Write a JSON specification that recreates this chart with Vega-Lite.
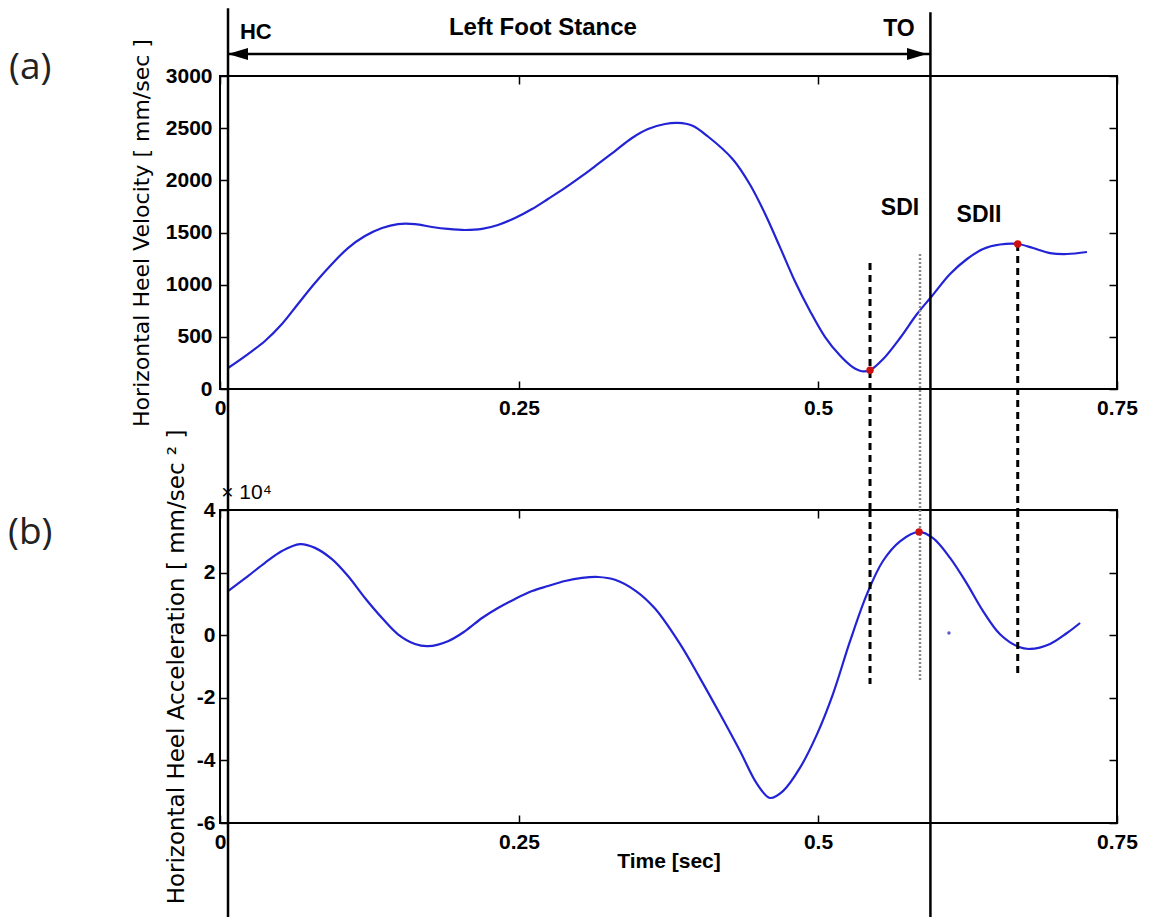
{
  "$schema": "https://vega.github.io/schema/vega-lite/v6.json",
  "background": "white",
  "padding": {"left": 7, "top": 5, "right": 5, "bottom": 0},
  "bounds": "flush",
  "spacing": 121,
  "config": {
    "view": {"stroke": "black", "strokeWidth": 2},
    "axis": {
      "grid": false, "domain": false, "tickColor": "black", "tickWidth": 1.5, "tickSize": -8,
      "labelFont": "Liberation Sans", "labelFontWeight": "bold", "labelFontSize": 21, "labelColor": "black",
      "titleColor": "black", "labelFlush": false, "labelOverlap": false
    }
  },
  "datasets": {
    "velocity": [
      {"t": 0.0067, "v": 201}, {"t": 0.0234, "v": 335}, {"t": 0.0376, "v": 460}, {"t": 0.0518, "v": 623},
      {"t": 0.0652, "v": 815}, {"t": 0.0794, "v": 1016}, {"t": 0.0936, "v": 1198}, {"t": 0.107, "v": 1351},
      {"t": 0.1212, "v": 1466}, {"t": 0.1355, "v": 1543}, {"t": 0.1488, "v": 1581}, {"t": 0.163, "v": 1581},
      {"t": 0.1773, "v": 1553}, {"t": 0.1906, "v": 1534}, {"t": 0.2049, "v": 1524}, {"t": 0.2191, "v": 1534},
      {"t": 0.2324, "v": 1572}, {"t": 0.2467, "v": 1639}, {"t": 0.2609, "v": 1725}, {"t": 0.2742, "v": 1821},
      {"t": 0.2885, "v": 1927}, {"t": 0.3027, "v": 2042}, {"t": 0.3161, "v": 2157}, {"t": 0.3303, "v": 2281},
      {"t": 0.3445, "v": 2406}, {"t": 0.3579, "v": 2492}, {"t": 0.3721, "v": 2540}, {"t": 0.3829, "v": 2550},
      {"t": 0.3946, "v": 2525}, {"t": 0.408, "v": 2420}, {"t": 0.4289, "v": 2200}, {"t": 0.4431, "v": 1960},
      {"t": 0.4557, "v": 1680}, {"t": 0.4682, "v": 1360}, {"t": 0.4808, "v": 1030}, {"t": 0.4933, "v": 748},
      {"t": 0.5058, "v": 500}, {"t": 0.5184, "v": 320}, {"t": 0.5284, "v": 215}, {"t": 0.5368, "v": 170},
      {"t": 0.5435, "v": 180}, {"t": 0.5543, "v": 285}, {"t": 0.5686, "v": 489}, {"t": 0.5828, "v": 719},
      {"t": 0.5953, "v": 891}, {"t": 0.6104, "v": 1102}, {"t": 0.6246, "v": 1246}, {"t": 0.638, "v": 1342},
      {"t": 0.6522, "v": 1385}, {"t": 0.6672, "v": 1390}, {"t": 0.6798, "v": 1351}, {"t": 0.694, "v": 1303},
      {"t": 0.7082, "v": 1294}, {"t": 0.7249, "v": 1313}
    ],
    "accel": [
      {"t": 0.0067, "a": 1.41}, {"t": 0.0234, "a": 1.89}, {"t": 0.0376, "a": 2.31}, {"t": 0.0518, "a": 2.69},
      {"t": 0.0669, "a": 2.91}, {"t": 0.0794, "a": 2.79}, {"t": 0.0936, "a": 2.43}, {"t": 0.107, "a": 1.89},
      {"t": 0.1212, "a": 1.19}, {"t": 0.1355, "a": 0.55}, {"t": 0.1488, "a": 0.03}, {"t": 0.163, "a": -0.28},
      {"t": 0.1739, "a": -0.35}, {"t": 0.1906, "a": -0.19}, {"t": 0.2049, "a": 0.13}, {"t": 0.2191, "a": 0.55},
      {"t": 0.2324, "a": 0.87}, {"t": 0.2467, "a": 1.16}, {"t": 0.2609, "a": 1.41}, {"t": 0.2742, "a": 1.57},
      {"t": 0.2885, "a": 1.73}, {"t": 0.3027, "a": 1.83}, {"t": 0.3161, "a": 1.86}, {"t": 0.3303, "a": 1.77},
      {"t": 0.3478, "a": 1.41}, {"t": 0.3637, "a": 0.85}, {"t": 0.3846, "a": -0.28}, {"t": 0.4013, "a": -1.37},
      {"t": 0.4181, "a": -2.52}, {"t": 0.4348, "a": -3.7}, {"t": 0.449, "a": -4.75}, {"t": 0.4599, "a": -5.2},
      {"t": 0.4707, "a": -4.98}, {"t": 0.4849, "a": -4.24}, {"t": 0.4992, "a": -3.16}, {"t": 0.5125, "a": -1.88},
      {"t": 0.5268, "a": -0.19}, {"t": 0.541, "a": 1.32}, {"t": 0.5543, "a": 2.37}, {"t": 0.5686, "a": 3.0},
      {"t": 0.5845, "a": 3.3}, {"t": 0.5962, "a": 3.1}, {"t": 0.6104, "a": 2.47}, {"t": 0.6246, "a": 1.64},
      {"t": 0.638, "a": 0.77}, {"t": 0.6522, "a": 0.03}, {"t": 0.6681, "a": -0.38}, {"t": 0.6773, "a": -0.44},
      {"t": 0.694, "a": -0.28}, {"t": 0.7082, "a": 0.07}, {"t": 0.7191, "a": 0.39}
    ],
    "solidA": [{"t": 0.0067, "y1": 3650, "y2": -1160}, {"t": 0.594, "y1": 3610, "y2": -1160}],
    "dashedA": [{"t": 0.5435, "y1": 1208, "y2": -1160}, {"t": 0.667, "y1": 1390, "y2": -1160}],
    "dottedA": [{"t": 0.5853, "y1": 1294, "y2": -1160}],
    "solidB": [{"t": 0.0067, "y1": 4, "y2": -9.04}, {"t": 0.594, "y1": 4, "y2": -9.04}],
    "dashedB": [{"t": 0.5435, "y1": 4, "y2": -1.56}, {"t": 0.667, "y1": 4, "y2": -1.37}],
    "dottedB": [{"t": 0.5853, "y1": 4, "y2": -1.46}],
    "arrow": [{"t1": 0.0067, "t2": 0.594, "y": 3211}],
    "heads": [{"t": 0.01505, "y": 3211, "dir": "left"}, {"t": 0.5828, "y": 3211, "dir": "right"}],
    "redA": [{"t": 0.5435, "v": 180}, {"t": 0.667, "v": 1390}],
    "redB": [{"t": 0.5845, "a": 3.3}],
    "blueDot": [{"t": 0.6095, "a": 0.07}],
    "hcLabel": [{"t": 0.0167, "y": 3422, "text": "HC"}],
    "stanceLabel": [{"t": 0.27, "y": 3460, "text": "Left Foot Stance"}],
    "centerLabels": [
      {"t": 0.5677, "y": 3450, "text": "TO"},
      {"t": 0.5686, "y": 1735, "text": "SDI"},
      {"t": 0.6346, "y": 1668, "text": "SDII"}
    ],
    "panelA": [{"t": -0.1764, "y": 3077, "text": "(a)"}],
    "panelB": [{"t": -0.1772, "y": 3.265, "text": "(b)"}],
    "expLabel": [{"t": 0.001, "y": 4.55, "text": "× 10⁴"}]
  },
  "vconcat": [
    {
      "width": 897,
      "height": 313,
      "layer": [
        {
          "data": {"name": "velocity"},
          "mark": {"type": "line", "color": "#2323d6", "strokeWidth": 2.2, "interpolate": "catmull-rom"},
          "encoding": {
            "x": {"field": "t", "type": "quantitative", "scale": {"domain": [0, 0.75], "nice": false},
                  "axis": {"orient": "bottom", "values": [0, 0.25, 0.5, 0.75], "format": ".2~f", "title": null, "labelPadding": 16}},
            "y": {"field": "v", "type": "quantitative", "scale": {"domain": [0, 3000], "nice": false},
                  "axis": {"orient": "left", "values": [0, 500, 1000, 1500, 2000, 2500, 3000], "labelExpr": "'' + datum.value", "title": "Horizontal Heel Velocity [ mm/sec ]",
                           "titleFont": "DejaVu Sans", "titleFontSize": 22, "titleFontWeight": "normal", "labelPadding": 16, "titlePadding": 12}}
          }
        },
        {
          "data": {"name": "velocity"},
          "mark": {"type": "line", "opacity": 0},
          "encoding": {
            "x": {"field": "t", "type": "quantitative", "axis": {"orient": "top", "values": [0, 0.25, 0.5, 0.75], "labels": false, "title": null}},
            "y": {"field": "v", "type": "quantitative", "axis": {"orient": "right", "values": [0, 500, 1000, 1500, 2000, 2500, 3000], "labels": false, "title": null}}
          }
        },
        {
          "data": {"name": "solidA"},
          "mark": {"type": "rule", "color": "black", "strokeWidth": 2.5},
          "encoding": {
            "x": {"field": "t", "type": "quantitative", "axis": null},
            "y": {"field": "y1", "type": "quantitative", "axis": null},
            "y2": {"field": "y2"}
          }
        },
        {
          "data": {"name": "dashedA"},
          "mark": {"type": "rule", "color": "black", "strokeWidth": 3, "strokeDash": [7, 5]},
          "encoding": {
            "x": {"field": "t", "type": "quantitative", "axis": null},
            "y": {"field": "y1", "type": "quantitative", "axis": null},
            "y2": {"field": "y2"}
          }
        },
        {
          "data": {"name": "dottedA"},
          "mark": {"type": "rule", "color": "#8a8a8a", "strokeWidth": 2.5, "strokeDash": [2, 2]},
          "encoding": {
            "x": {"field": "t", "type": "quantitative", "axis": null},
            "y": {"field": "y1", "type": "quantitative", "axis": null},
            "y2": {"field": "y2"}
          }
        },
        {
          "data": {"name": "arrow"},
          "mark": {"type": "rule", "color": "black", "strokeWidth": 2.5},
          "encoding": {
            "x": {"field": "t1", "type": "quantitative", "axis": null},
            "x2": {"field": "t2"},
            "y": {"field": "y", "type": "quantitative", "axis": null}
          }
        },
        {
          "data": {"name": "heads"},
          "mark": {"type": "point", "filled": true, "color": "black", "opacity": 1, "size": 400},
          "encoding": {
            "x": {"field": "t", "type": "quantitative", "axis": null},
            "y": {"field": "y", "type": "quantitative", "axis": null},
            "shape": {"field": "dir", "type": "nominal", "legend": null,
                      "scale": {"domain": ["left", "right"], "range": ["M -1 0 L 1 -0.6 L 1 0.6 Z", "M 1 0 L -1 -0.6 L -1 0.6 Z"]}}
          }
        },
        {
          "data": {"name": "redA"},
          "mark": {"type": "point", "filled": true, "color": "#d01010", "opacity": 1, "size": 55},
          "encoding": {
            "x": {"field": "t", "type": "quantitative", "axis": null},
            "y": {"field": "v", "type": "quantitative", "axis": null}
          }
        },
        {
          "data": {"name": "hcLabel"},
          "mark": {"type": "text", "align": "left", "baseline": "middle", "font": "Liberation Sans", "fontWeight": "bold", "fontSize": 22, "color": "black"},
          "encoding": {
            "x": {"field": "t", "type": "quantitative", "axis": null},
            "y": {"field": "y", "type": "quantitative", "axis": null},
            "text": {"field": "text"}
          }
        },
        {
          "data": {"name": "stanceLabel"},
          "mark": {"type": "text", "align": "center", "baseline": "middle", "font": "Liberation Sans", "fontWeight": "bold", "fontSize": 24, "color": "black"},
          "encoding": {
            "x": {"field": "t", "type": "quantitative", "axis": null},
            "y": {"field": "y", "type": "quantitative", "axis": null},
            "text": {"field": "text"}
          }
        },
        {
          "data": {"name": "centerLabels"},
          "mark": {"type": "text", "align": "center", "baseline": "middle", "font": "Liberation Sans", "fontWeight": "bold", "fontSize": 23, "color": "black"},
          "encoding": {
            "x": {"field": "t", "type": "quantitative", "axis": null},
            "y": {"field": "y", "type": "quantitative", "axis": null},
            "text": {"field": "text"}
          }
        },
        {
          "data": {"name": "panelA"},
          "mark": {"type": "text", "align": "left", "baseline": "middle", "font": "Open Sans", "fontSize": 37, "color": "#222222"},
          "encoding": {
            "x": {"field": "t", "type": "quantitative", "axis": null},
            "y": {"field": "y", "type": "quantitative", "axis": null},
            "text": {"field": "text"}
          }
        }
      ],
      "resolve": {"axis": {"x": "independent", "y": "independent"}}
    },
    {
      "width": 897,
      "height": 313,
      "layer": [
        {
          "data": {"name": "accel"},
          "mark": {"type": "line", "color": "#2323d6", "strokeWidth": 2.2, "interpolate": "catmull-rom"},
          "encoding": {
            "x": {"field": "t", "type": "quantitative", "scale": {"domain": [0, 0.75], "nice": false},
                  "axis": {"orient": "bottom", "values": [0, 0.25, 0.5, 0.75], "format": ".2~f", "title": "Time [sec]",
                           "titleFont": "Liberation Sans", "titleFontWeight": "bold", "titleFontSize": 21, "labelPadding": 16, "titlePadding": -2}},
            "y": {"field": "a", "type": "quantitative", "scale": {"domain": [-6, 4], "nice": false},
                  "axis": {"orient": "left", "values": [-6, -4, -2, 0, 2, 4], "labelExpr": "'' + datum.value", "title": "Horizontal Heel Acceleration  [ mm/sec ² ]",
                           "titleFont": "DejaVu Sans", "titleFontSize": 23, "titleFontWeight": "normal", "labelPadding": 13, "titlePadding": 8}}
          }
        },
        {
          "data": {"name": "accel"},
          "mark": {"type": "line", "opacity": 0},
          "encoding": {
            "x": {"field": "t", "type": "quantitative", "axis": {"orient": "top", "values": [0, 0.25, 0.5, 0.75], "labels": false, "title": null}},
            "y": {"field": "a", "type": "quantitative", "axis": {"orient": "right", "values": [-6, -4, -2, 0, 2, 4], "labels": false, "title": null}}
          }
        },
        {
          "data": {"name": "solidB"},
          "mark": {"type": "rule", "color": "black", "strokeWidth": 2.5},
          "encoding": {
            "x": {"field": "t", "type": "quantitative", "axis": null},
            "y": {"field": "y1", "type": "quantitative", "axis": null},
            "y2": {"field": "y2"}
          }
        },
        {
          "data": {"name": "dashedB"},
          "mark": {"type": "rule", "color": "black", "strokeWidth": 3, "strokeDash": [7, 5]},
          "encoding": {
            "x": {"field": "t", "type": "quantitative", "axis": null},
            "y": {"field": "y1", "type": "quantitative", "axis": null},
            "y2": {"field": "y2"}
          }
        },
        {
          "data": {"name": "dottedB"},
          "mark": {"type": "rule", "color": "#8a8a8a", "strokeWidth": 2.5, "strokeDash": [2, 2]},
          "encoding": {
            "x": {"field": "t", "type": "quantitative", "axis": null},
            "y": {"field": "y1", "type": "quantitative", "axis": null},
            "y2": {"field": "y2"}
          }
        },
        {
          "data": {"name": "redB"},
          "mark": {"type": "point", "filled": true, "color": "#d01010", "opacity": 1, "size": 55},
          "encoding": {
            "x": {"field": "t", "type": "quantitative", "axis": null},
            "y": {"field": "a", "type": "quantitative", "axis": null}
          }
        },
        {
          "data": {"name": "blueDot"},
          "mark": {"type": "point", "filled": true, "color": "#5a5ac8", "opacity": 1, "size": 12},
          "encoding": {
            "x": {"field": "t", "type": "quantitative", "axis": null},
            "y": {"field": "a", "type": "quantitative", "axis": null}
          }
        },
        {
          "data": {"name": "expLabel"},
          "mark": {"type": "text", "align": "left", "baseline": "middle", "font": "Liberation Sans, DejaVu Sans", "fontSize": 21, "color": "black"},
          "encoding": {
            "x": {"field": "t", "type": "quantitative", "axis": null},
            "y": {"field": "y", "type": "quantitative", "axis": null},
            "text": {"field": "text"}
          }
        },
        {
          "data": {"name": "panelB"},
          "mark": {"type": "text", "align": "left", "baseline": "middle", "font": "Open Sans", "fontSize": 37, "color": "#222222"},
          "encoding": {
            "x": {"field": "t", "type": "quantitative", "axis": null},
            "y": {"field": "y", "type": "quantitative", "axis": null},
            "text": {"field": "text"}
          }
        }
      ],
      "resolve": {"axis": {"x": "independent", "y": "independent"}}
    }
  ]
}
